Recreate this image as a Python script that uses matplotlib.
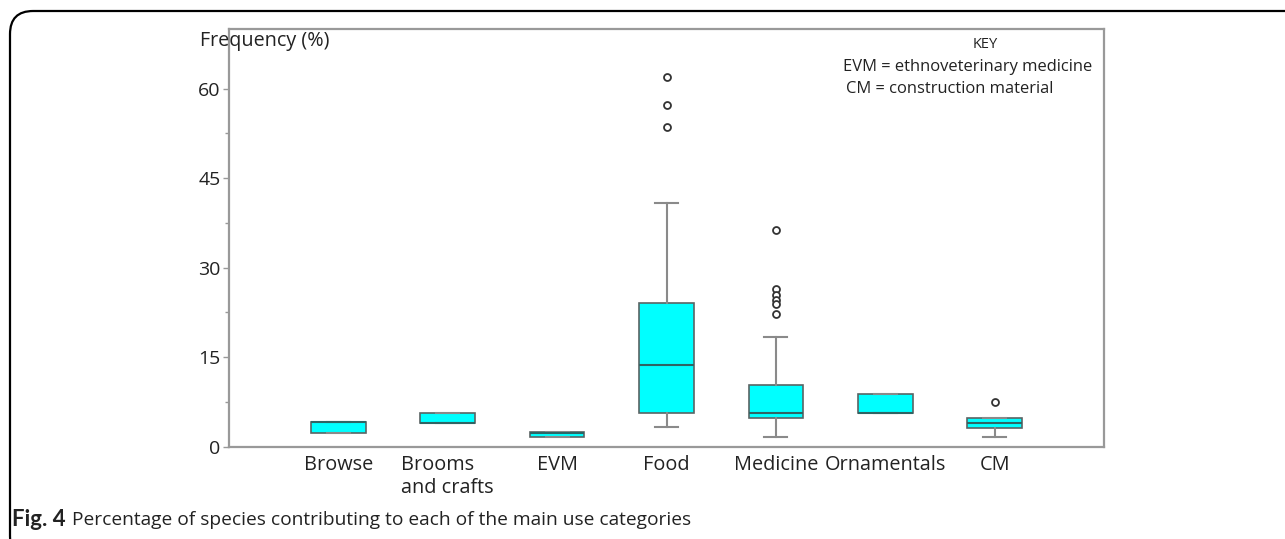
import matplotlib
matplotlib.use("Agg")
import matplotlib.pyplot as plt
from matplotlib.patches import FancyBboxPatch
from matplotlib.ticker import MultipleLocator

plt.rcParams['font.family'] = ['Open Sans', 'DejaVu Sans']

categories = ["Browse", "Brooms\nand crafts", "EVM", "Food", "Medicine", "Ornamentals", "CM"]
q1 = [2.35, 3.9, 1.57, 5.7, 4.86, 5.6, 3.2]
med = [4.1, 3.9, 2.3, 13.7, 5.6, 5.6, 4.0]
q3 = [4.1, 5.7, 2.46, 24.0, 10.4, 8.9, 4.86]
whislo = [2.35, 3.9, 1.57, 3.25, 1.68, 5.6, 1.6]
whishi = [4.1, 5.7, 2.46, 40.9, 18.4, 8.9, 4.86]
fliers = [[], [], [], [61.9, 57.2, 53.6], [36.3, 26.4, 25.5, 24.6, 23.9, 22.3], [], [7.5]]
yticks = [0, 15, 30, 45, 60]

W, H = 1285, 539
fig = plt.figure(figsize=(W / 100, H / 100), dpi=100)
ax = fig.add_axes([229 / W, 1 - 446.7 / H, (1104 - 229) / W, (446.7 - 29) / H])

stats = []
for i, c in enumerate(categories):
    stats.append(dict(label=c, q1=q1[i], med=med[i], q3=q3[i],
                      whislo=whislo[i], whishi=whishi[i], fliers=fliers[i]))

positions = list(range(1, len(categories) + 1))
ax.bxp(stats, positions=positions, widths=0.5, patch_artist=True, showcaps=True,
       capwidths=0.21,
       boxprops=dict(facecolor='#00FFFF', edgecolor='#5a6464', linewidth=1.2),
       medianprops=dict(color='#2f6464', linewidth=1.5),
       whiskerprops=dict(color='#8a8a8a', linewidth=1.5),
       capprops=dict(color='#8a8a8a', linewidth=1.5),
       flierprops=dict(marker='o', markersize=5, markerfacecolor='white',
                       markeredgecolor='#333333', markeredgewidth=1.3))

ax.set_xlim(0, 8)
ax.set_ylim(0, 70)
ax.set_yticks(yticks)
ax.set_yticklabels([str(v) for v in yticks], fontsize=14, color='#222222')
ax.yaxis.set_minor_locator(MultipleLocator(7.5))
ax.tick_params(axis='y', which='major', length=4, width=1, color='#999999', pad=2)
ax.tick_params(axis='y', which='minor', length=3, width=1, color='#999999')
ax.set_xticks(positions)
ax.set_xticklabels(categories, fontsize=14.3, color='#222222')
ax.tick_params(axis='x', length=0, pad=6)
for lbl in ax.get_xticklabels():
    lbl.set_multialignment('left')

for s in ax.spines.values():
    s.set_color('#999999')
    s.set_linewidth(1.6)

fig.text(200 / W, 1 - 41 / H, "Frequency (%)", fontsize=14.2, color='#222222',
         ha='left', va='center')

fig.text(985 / W, 1 - 45 / H, "KEY", fontsize=10.5, color='#222222', ha='center', va='center')
fig.text(843 / W, 1 - 67 / H, "EVM = ethnoveterinary medicine", fontsize=11.9,
         color='#222222', ha='left', va='center')
fig.text(846 / W, 1 - 89 / H, "CM = construction material", fontsize=11.9,
         color='#222222', ha='left', va='center')

fig.text(12 / W, 1 - 519 / H, "Fig. 4", fontsize=16, fontweight='bold', color='#222222',
         family=['Lato', 'DejaVu Sans'], ha='left', va='center')
fig.text(72 / W, 1 - 520 / H, "Percentage of species contributing to each of the main use categories",
         fontsize=13.8, color='#222222', ha='left', va='center')

frame = FancyBboxPatch((10 / W, -20 / H), 1400 / W, (528 + 20) / H,
                       boxstyle="round,pad=0,rounding_size=0.018",
                       transform=fig.transFigure, fill=False, edgecolor='black',
                       linewidth=1.6, mutation_aspect=W / H)
fig.patches.append(frame)

fig.savefig("out.png", dpi=100)
